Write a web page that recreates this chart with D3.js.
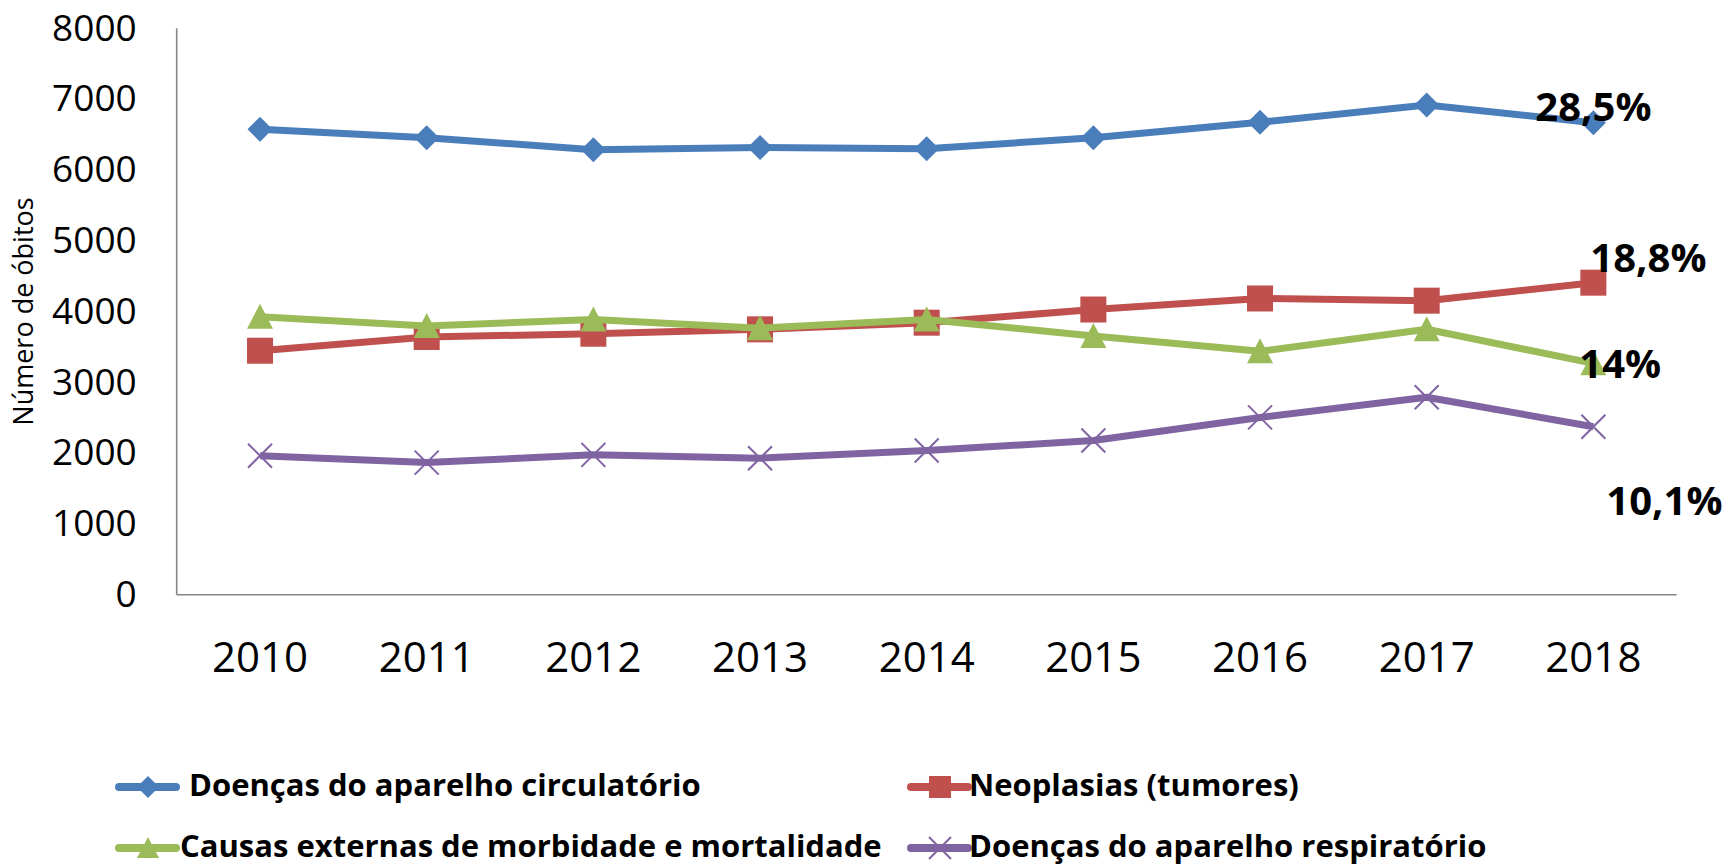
<!DOCTYPE html>
<html>
<head>
<meta charset="utf-8">
<script src="https://cdn.jsdelivr.net/npm/d3@7"></script>
<style>
  html, body { margin: 0; padding: 0; background: #fff; }
  svg { display: block; font-family: "Open Sans", "Liberation Sans", sans-serif; }
</style>
</head>
<body>
<svg id="chart"></svg>
<script>
// Óbitos por grupo de causas, 2010–2018
const years = ["2010", "2011", "2012", "2013", "2014", "2015", "2016", "2017", "2018"];

const circulatorio = [6573, 6455, 6284, 6315, 6300, 6455, 6673, 6917, 6667];
const neoplasias   = [3446, 3640, 3686, 3748, 3842, 4028, 4184, 4153, 4407];
const externas     = [3926, 3795, 3888, 3764, 3888, 3655, 3437, 3749, 3268];
const respiratorio = [1963, 1866, 1975, 1928, 2037, 2177, 2504, 2788, 2373];

const seriesNames = [
  "Doenças do aparelho circulatório",
  "Neoplasias (tumores)",
  "Causas externas de morbidade e mortalidade",
  "Doenças do aparelho respiratório"
];
const endLabels = ["28,5%", "18,8%", "14%", "10,1%"];
const yTicks = [0, 1000, 2000, 3000, 4000, 5000, 6000, 7000, 8000];

(function () {
  const W = 1727, H = 867;
  const M = { top: 28.3, left: 176.7 };
  const innerW = 1500, innerH = 566.4;
  const AXIS = "#868686";

  const series = [
    { name: seriesNames[0], values: circulatorio, color: "#4a7ebb", marker: "diamond", label: endLabels[0], ldx: -58, ldy: -2 },
    { name: seriesNames[1], values: neoplasias,   color: "#c0504d", marker: "square",  label: endLabels[1], ldx: -3,  ldy: -11 },
    { name: seriesNames[2], values: externas,     color: "#9bbb59", marker: "triangle", label: endLabels[2], ldx: -14, ldy: 15 },
    { name: seriesNames[3], values: respiratorio, color: "#8064a2", marker: "x",       label: endLabels[3], ldx: 13,  ldy: 88 }
  ];

  const svg = d3.select("#chart").attr("width", W).attr("height", H);
  const g = svg.append("g").attr("transform", `translate(${M.left},${M.top})`);

  const x = d3.scaleBand().domain(years).range([0, innerW]);
  const y = d3.scaleLinear().domain([0, 8000]).range([innerH, 0]);
  const cx = d => x(d) + x.bandwidth() / 2;

  // Y axis (labels only, gray spine)
  const yAxis = g.append("g")
    .call(d3.axisLeft(y).tickValues(yTicks).tickSize(0).tickPadding(40).tickFormat(d3.format("d")));
  yAxis.select(".domain").remove();
  yAxis.selectAll("text")
    .attr("font-size", 37)
    .attr("font-family", "Open Sans")
    .attr("fill", "#000");

  // X axis labels
  const xAxis = g.append("g").attr("transform", `translate(0,${innerH})`)
    .call(d3.axisBottom(x).tickSize(0).tickPadding(47));
  xAxis.select(".domain").remove();
  xAxis.selectAll("text")
    .attr("font-size", 42)
    .attr("font-family", "Open Sans")
    .attr("fill", "#000");

  // Spines
  g.append("line").attr("x1", 0).attr("x2", 0).attr("y1", 0).attr("y2", innerH)
    .attr("stroke", AXIS).attr("stroke-width", 1.6);
  g.append("line").attr("x1", 0).attr("x2", innerW).attr("y1", innerH).attr("y2", innerH)
    .attr("stroke", AXIS).attr("stroke-width", 1.6);

  // Y title
  svg.append("text")
    .attr("transform", `translate(33,${(195 + 428) / 2}) rotate(-90)`)
    .attr("text-anchor", "middle")
    .attr("font-size", 27)
    .attr("fill", "#000")
    .text("Número de óbitos");

  function drawMarker(sel, type, color, px, py, s) {
    if (type === "diamond") {
      sel.append("path")
        .attr("d", `M${px},${py - s} L${px + s},${py} L${px},${py + s} L${px - s},${py} Z`)
        .attr("fill", color);
    } else if (type === "square") {
      sel.append("rect")
        .attr("x", px - s).attr("y", py - s).attr("width", 2 * s).attr("height", 2 * s)
        .attr("fill", color);
    } else if (type === "triangle") {
      sel.append("path")
        .attr("d", `M${px},${py - s} L${px + s},${py + s * 0.92} L${px - s},${py + s * 0.92} Z`)
        .attr("fill", color);
    } else {
      sel.append("path")
        .attr("d", `M${px - s},${py - s} L${px + s},${py + s} M${px + s},${py - s} L${px - s},${py + s}`)
        .attr("stroke", color).attr("stroke-width", 2).attr("fill", "none");
    }
  }

  const line = d3.line().x((d, i) => cx(years[i])).y(d => y(d));

  series.forEach(s => {
    g.append("path")
      .datum(s.values)
      .attr("d", line)
      .attr("fill", "none")
      .attr("stroke", s.color)
      .attr("stroke-width", 7)
      .attr("stroke-linejoin", "round");
    const mg = g.append("g");
    s.values.forEach((v, i) => {
      drawMarker(mg, s.marker, s.color, cx(years[i]), y(v), s.marker === "x" ? 12 : (s.marker === "diamond" ? 12.5 : 13));
    });
  });

  // End labels (drawn above the lines)
  series.forEach(s => {
    const last = s.values.length - 1;
    g.append("text")
      .attr("x", cx(years[last]) + s.ldx)
      .attr("y", y(s.values[last]) + s.ldy)
      .attr("font-size", 40)
      .attr("font-weight", 700)
      .attr("fill", "#000")
      .text(s.label);
  });

  // Legend
  const legendPos = [
    { lx: 119, tx: 189, y: 787 },
    { lx: 911, tx: 969, y: 787 },
    { lx: 119, tx: 180, y: 848 },
    { lx: 911, tx: 969, y: 848 }
  ];
  series.forEach((s, i) => {
    const p = legendPos[i];
    const lg = svg.append("g");
    lg.append("line")
      .attr("x1", p.lx).attr("x2", p.lx + 57).attr("y1", p.y).attr("y2", p.y)
      .attr("stroke", s.color).attr("stroke-width", 8).attr("stroke-linecap", "round");
    drawMarker(lg, s.marker, s.color, p.lx + 29, p.y, 11);
    lg.append("text")
      .attr("x", p.tx).attr("y", p.y).attr("dy", "0.3em")
      .attr("font-size", 31)
      .attr("font-weight", 700)
      .attr("fill", "#000")
      .text(s.name);
  });
})();
</script>
</body>
</html>
